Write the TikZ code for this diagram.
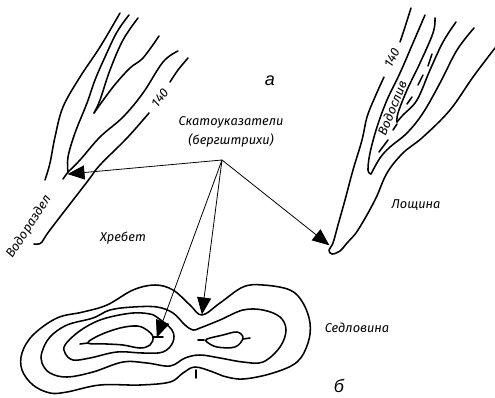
\documentclass[tikz,border=0pt]{standalone}
\usepackage{fontspec}
\setmainfont{Fira Sans}
\newfontfamily\letterfont{Liberation Sans}
\usetikzlibrary{arrows.meta}
\tikzset{
    contour/.style={line width=1.55pt, line cap=round, line join=round},
    pointer/.style={line width=0.8pt, -{Triangle[length=17pt,width=14pt]}, shorten >=-0.5pt},
    caption/.style={font=\fontsize{12.8}{19}\selectfont\itshape, inner sep=0pt, align=center},
    letter/.style={font=\fontsize{18}{20}\selectfont\letterfont\itshape, inner sep=0pt}
}
\begin{document}
\begin{tikzpicture}[x=1pt, y=-1pt]
    \useasboundingbox (0,0) rectangle (495,397);

    % Ridge
    \draw[contour] plot[smooth, tension=0.6] coordinates {(120,13) (100,47) (80,77) (63,107) (55,137) (50,163) (45,180)};
    \draw[contour] plot[smooth, tension=0.6] coordinates {(129,15) (117,32) (105,57) (95,80) (87,103) (75,133) (68,157) (68,172)};
    \draw[contour] plot[smooth, tension=0.6] coordinates {(68,172) (80,160) (100,137) (123,117) (143,93) (163,62) (178,51)};
    \draw[contour] (68,172) -- (63,179);
    \draw[contour] plot[smooth, tension=0.6] coordinates {(138,18) (123,40) (110,70) (100,100) (94,113)};
    \draw[contour] plot[smooth, tension=0.6] coordinates {(94,113) (113,87) (130,68) (143,58) (159,36)};
    \draw[contour] plot[smooth, tension=0.6] coordinates {(188,58) (178,70) (170,82)};
    \draw[contour] plot[smooth, tension=0.6] coordinates {(149,113) (127,138) (100,165) (87,182) (50,230) (42,242) (38,244) (34,244)};

    % Hollow
    \draw[contour] plot[smooth, tension=0.6] coordinates {(411,8) (405,27) (400,42)};
    \draw[contour] plot[smooth, tension=0.6] coordinates {(384,77) (375,97) (367,117) (362,140) (353,170) (345,200) (338,225) (333,243) (329,250) (332,254) (340,251) (347,243) (358,230) (375,200) (387,173) (403,153) (423,137) (450,110) (473,77) (495,48)};
    \draw[contour] plot[smooth, tension=0.6] coordinates {(425,15) (413,43) (400,73) (387,100) (377,127) (370,153) (368,170) (371,174)};
    \draw[contour] plot[smooth, tension=0.6] coordinates {(371,174) (380,158) (390,147) (407,133) (423,113) (440,83) (457,50) (474,28)};
    \draw[contour] plot[smooth, tension=0.6] coordinates {(435,18) (433,33) (420,63) (407,90) (398,113) (397,122)};
    \draw[contour] plot[smooth, tension=0.6] coordinates {(456,22) (443,42) (430,70) (417,100) (403,115) (397,122)};

    % Thalweg dashes
    \foreach \xa/\ya/\xb/\yb in {432/54/428/66, 423/75/418/85, 412/97/407/104, 397/124/393/130, 388/140/379/152} {
        \draw[contour] (\xa,\ya) -- (\xb,\yb);
    }

    % Saddle
    \draw[contour] plot[smooth cycle, tension=0.6] coordinates {(202,315) (190,305) (173,290) (155,285) (133,290) (107,305) (83,312) (57,318) (33,335) (22,353) (22,370) (33,385) (50,393) (67,392) (100,385) (140,385) (170,382) (183,373) (195,367) (213,372) (223,376) (243,379) (273,373) (297,362) (308,343) (310,323) (303,303) (290,290) (263,285) (243,287) (220,303)};
    \draw[contour] plot[smooth cycle, tension=0.6] coordinates {(193,330) (185,325) (173,313) (157,307) (133,307) (110,310) (93,318) (67,325) (50,337) (42,352) (42,363) (50,373) (67,377) (93,372) (123,362) (147,363) (170,366) (185,358) (200,355) (220,358) (243,362) (263,362) (280,347) (286,330) (280,317) (263,310) (243,310) (220,320) (200,328)};
    \draw[contour] plot[smooth cycle, tension=0.6] coordinates {(158,318) (172,330) (173,342) (163,352) (143,353) (117,352) (90,358) (73,360) (65,353) (65,345) (77,333) (93,323) (110,317) (133,313) (150,314)};
    \draw[contour] plot[smooth cycle, tension=0.6] coordinates {(88,343) (100,335) (120,328) (137,326) (147,330) (153,337) (150,345) (140,348) (123,345) (107,344)};
    \draw[contour] plot[smooth cycle, tension=0.6] coordinates {(207,339) (223,335) (237,332) (243,338) (235,347) (217,347) (207,342)};

    % Slope ticks
    \foreach \xa/\ya/\xb/\yb in {80/344/88/343, 153/337/163/337, 198/340/204/340, 243/339/250/338, 196/370/196/378} {
        \draw[contour] (\xa,\ya) -- (\xb,\yb);
    }

    % Arrows
    \coordinate (hub) at (222,160);
    \coordinate (ridgetip) at (68,174);
    \coordinate (hollowtip) at (329,245);
    \coordinate (neck) at (202,314);
    \coordinate (summit) at (157,337);
    \foreach \tip in {ridgetip, hollowtip, neck, summit} {
        \draw[pointer] (hub) -- (\tip);
    }

    % Labels
    \node[caption] (slopes) at (231,132) {Скатоуказатели\\(бергштрихи)};
    \node[caption] (ridge) at (123,238) {Хребет};
    \node[caption] (hollow) at (416,205) {Лощина};
    \node[caption] (saddle) at (357,328) {Седловина};
    \node[caption, rotate=57] (divide) at (29,227) {Водораздел};
    \node[caption, rotate=68] (stream) at (392,108) {Водослив};
    \node[caption, rotate=52] (leftheight) at (160,98) {140};
    \node[caption, rotate=62] (rightheight) at (392,58) {140};
    \node[letter] (parta) at (270,81) {а};
    \node[letter] (partb) at (339,386) {б};
\end{tikzpicture}
\end{document}
